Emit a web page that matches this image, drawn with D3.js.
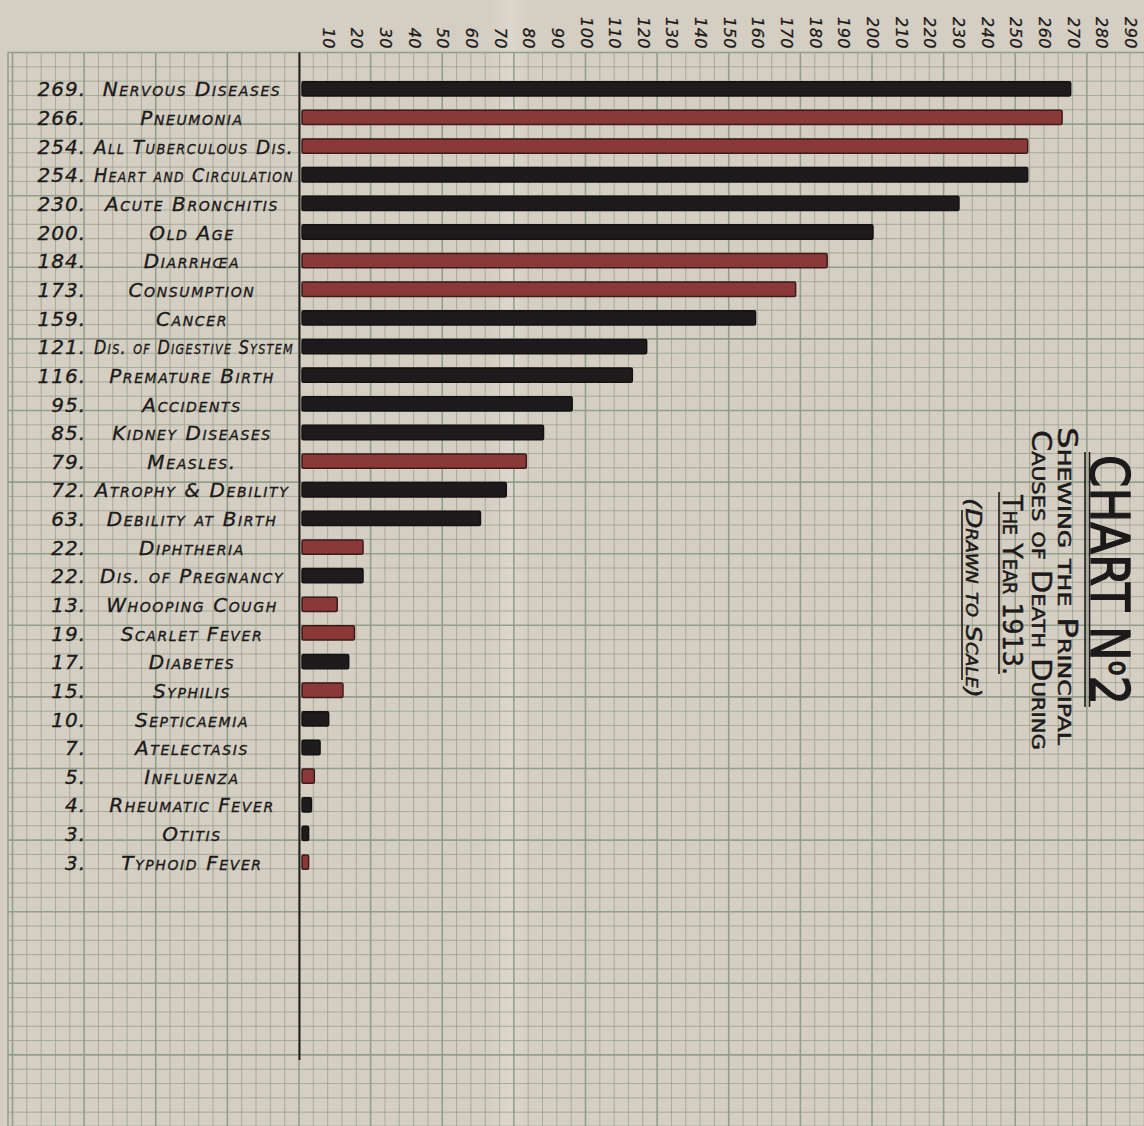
<!DOCTYPE html>
<html><head><meta charset="utf-8">
<script src="https://cdn.jsdelivr.net/npm/d3@7/dist/d3.min.js"></script>
<style>html,body{margin:0;padding:0;background:#d5cec2;overflow:hidden}</style>
</head><body><svg id="chart" width="1144" height="1126"></svg>
<script>
// ---------- DATA ----------
const causes = [
  "Nervous Diseases", "Pneumonia", "All Tuberculous Dis.", "Heart and Circulation",
  "Acute Bronchitis", "Old Age", "Diarrhœa", "Consumption", "Cancer",
  "Dis. of Digestive System", "Premature Birth", "Accidents", "Kidney Diseases",
  "Measles.", "Atrophy & Debility", "Debility at Birth", "Diphtheria",
  "Dis. of Pregnancy", "Whooping Cough", "Scarlet Fever", "Diabetes", "Syphilis",
  "Septicaemia", "Atelectasis", "Influenza", "Rheumatic Fever", "Otitis", "Typhoid Fever"
];
const deaths = [269, 266, 254, 254, 230, 200, 184, 173, 159, 121, 116, 95, 85, 79,
  72, 63, 22, 22, 13, 19, 17, 15, 10, 7, 5, 4, 3, 3];
const ink = ["black", "red", "red", "black", "black", "black", "red", "red", "black",
  "black", "black", "black", "black", "red", "black", "black", "red", "black",
  "red", "red", "black", "red", "black", "black", "red", "black", "black", "red"];
const tickLabels = [10, 20, 30, 40, 50, 60, 70, 80, 90, 100, 110, 120, 130, 140, 150,
  160, 170, 180, 190, 200, 210, 220, 230, 240, 250, 260, 270, 280, 290];
const titleLines = ["Shewing the Principal", "Causes of Death During", "The Year 1913.", "(Drawn to Scale)"];

// ---------- SETUP ----------
const W = 1144, H = 1126;
const svg = d3.select("#chart");
const paper = "#d5cec2", gridCol = "#8d9b86", inkCol = "#1c1a1a";
const cell = 14.32, gridTop = 52.5;

const x = d3.scaleLinear().domain([0, 290]).range([299, 299 + 290 * 2.865]);
const y = d3.scaleBand().domain(causes)
  .range([gridTop + 2 * cell - cell / 2, gridTop + 2 * cell - cell / 2 + causes.length * 2 * cell])
  .paddingInner(0.5).paddingOuter(0.25);
const colour = d3.scaleOrdinal().domain(["black", "red"]).range(["#1d1b1c", "#8b3838"]);
const stroke = d3.scaleOrdinal().domain(["black", "red"]).range(["#141213", "#3b1b1b"]);

// paper
svg.append("rect").attr("width", W).attr("height", H).attr("fill", paper);
const defs = svg.append("defs");
const fold = defs.append("linearGradient").attr("id", "fold");
fold.append("stop").attr("offset", "0%").attr("stop-color", "#fff").attr("stop-opacity", 0);
fold.append("stop").attr("offset", "50%").attr("stop-color", "#fff").attr("stop-opacity", 0.16);
fold.append("stop").attr("offset", "100%").attr("stop-color", "#fff").attr("stop-opacity", 0);
svg.append("rect").attr("x", 490).attr("y", 0).attr("width", 40).attr("height", H).attr("fill", "url(#fold)");

// ---------- GRID ----------
const gridG = svg.append("g");
const yGrid = d3.scaleLinear().domain([0, 1]).range([gridTop, gridTop + cell]);
const gridLeft = 8;
d3.range(-100, 305, 5).forEach(v => {
  const gx = x(v);
  if (gx < gridLeft - 1) return;
  const major = v % 25 === 0;
  gridG.append("line").attr("x1", gx).attr("x2", gx).attr("y1", gridTop).attr("y2", H)
    .attr("stroke", gridCol).attr("stroke-width", major ? 1.6 : 0.9).attr("opacity", major ? 0.9 : 0.75);
});
d3.range(0, 76).forEach(k => {
  const gy = yGrid(k);
  const major = k % 5 === 0;
  gridG.append("line").attr("x1", gridLeft).attr("x2", W).attr("y1", gy).attr("y2", gy)
    .attr("stroke", gridCol).attr("stroke-width", major ? 1.6 : 0.9).attr("opacity", major ? 0.9 : 0.75);
});
gridG.append("line").attr("x1", gridLeft).attr("x2", gridLeft).attr("y1", gridTop).attr("y2", H)
  .attr("stroke", gridCol).attr("stroke-width", 1.4);

// ---------- AXIS ----------
const axisG = svg.append("g").attr("transform", "translate(0,49)")
  .call(d3.axisTop(x).tickValues(tickLabels).tickSize(0).tickPadding(0));
axisG.select(".domain").remove();
axisG.selectAll("text")
  .attr("x", 0).attr("y", 0).attr("dy", 0)
  .attr("transform", "translate(-5.5,0) rotate(90)")
  .attr("text-anchor", "end")
  .attr("fill", inkCol)
  .attr("stroke", inkCol).attr("stroke-width", 0.3)
  .style("font-family", "'DejaVu Sans', sans-serif")
  .style("font-style", "italic")
  .style("font-size", "16px")
  .style("letter-spacing", "0.5px");

// vertical zero line
svg.append("line").attr("x1", x(0) + 0.5).attr("x2", x(0) + 0.5)
  .attr("y1", gridTop).attr("y2", 1060).attr("stroke", "#221f1f").attr("stroke-width", 2);

// ---------- BARS ----------
svg.append("g").selectAll("rect").data(causes).join("rect")
  .attr("x", x(0) + 3)
  .attr("y", d => y(d) + 0.5)
  .attr("width", (d, i) => Math.max(2, x(deaths[i]) - x(0) - 2))
  .attr("height", y.bandwidth())
  .attr("rx", 1.5)
  .attr("fill", (d, i) => colour(ink[i]))
  .attr("stroke", (d, i) => stroke(ink[i]))
  .attr("stroke-width", 1.5);

// ---------- ROW LABELS ----------
const lab = svg.append("g").attr("fill", inkCol).attr("stroke", inkCol).attr("stroke-width", 0.35)
  .style("font-family", "'DejaVu Sans', sans-serif").style("font-style", "italic");
lab.selectAll("text.num").data(causes).join("text").attr("class", "num")
  .attr("x", 86).attr("y", d => y(d) + y.bandwidth() + 1)
  .attr("text-anchor", "end")
  .style("font-size", "20px").style("letter-spacing", "1px")
  .text((d, i) => deaths[i] + ".");
lab.selectAll("text.name").data(causes).join("text").attr("class", "name")
  .attr("x", 192).attr("y", d => y(d) + y.bandwidth() + 1)
  .attr("text-anchor", "middle")
  .style("font-size", "20px").style("font-variant", "small-caps").style("letter-spacing", "1.6px")
  .text(d => d)
  .each(function () {
    const len = this.getComputedTextLength();
    if (len > 196) d3.select(this).attr("x", 94).attr("text-anchor", "start")
      .attr("textLength", 200).attr("lengthAdjust", "spacingAndGlyphs");
  });

// ---------- TITLE ----------
const tg = svg.append("g").attr("fill", inkCol).attr("stroke", inkCol).attr("stroke-width", 0.5)
  .style("font-family", "'DejaVu Sans', sans-serif");
const big = tg.append("text").attr("transform", "translate(1091,455) rotate(90)")
  .attr("textLength", 250).attr("lengthAdjust", "spacingAndGlyphs")
  .attr("stroke-width", 1.4)
  .style("font-size", "54px");
big.append("tspan").text("CHART N");
big.append("tspan").attr("dy", -18).style("font-size", "28px").text("o");
big.append("tspan").attr("dy", 18).text("2");
[1085, 1089.5].forEach(lx => tg.append("line").attr("x1", lx).attr("x2", lx)
  .attr("y1", 452).attr("y2", 707).attr("stroke-width", 1.6));

const lineSpec = [
  { bx: 1058, y0: 427, len: 318, fs: 26 },
  { bx: 1032, y0: 430, len: 320, fs: 26 },
  { bx: 1003, y0: 495, len: 180, fs: 27 },
  { bx: 966, y0: 498, len: 200, fs: 22 }
];
titleLines.forEach((t, i) => {
  const s = lineSpec[i];
  tg.append("text").attr("transform", `translate(${s.bx},${s.y0}) rotate(90)`)
    .attr("textLength", s.len).attr("lengthAdjust", "spacingAndGlyphs")
    .style("font-size", s.fs + "px").style("font-variant", "small-caps")
    .style("font-style", i === 3 ? "italic" : "normal")
    .text(t);
});
tg.append("line").attr("x1", 999).attr("x2", 999).attr("y1", 492).attr("y2", 674)
  .attr("stroke-width", 1.6);
tg.append("line").attr("x1", 962).attr("x2", 962).attr("y1", 510).attr("y2", 680)
  .attr("stroke-width", 1.6);
</script></body></html>
